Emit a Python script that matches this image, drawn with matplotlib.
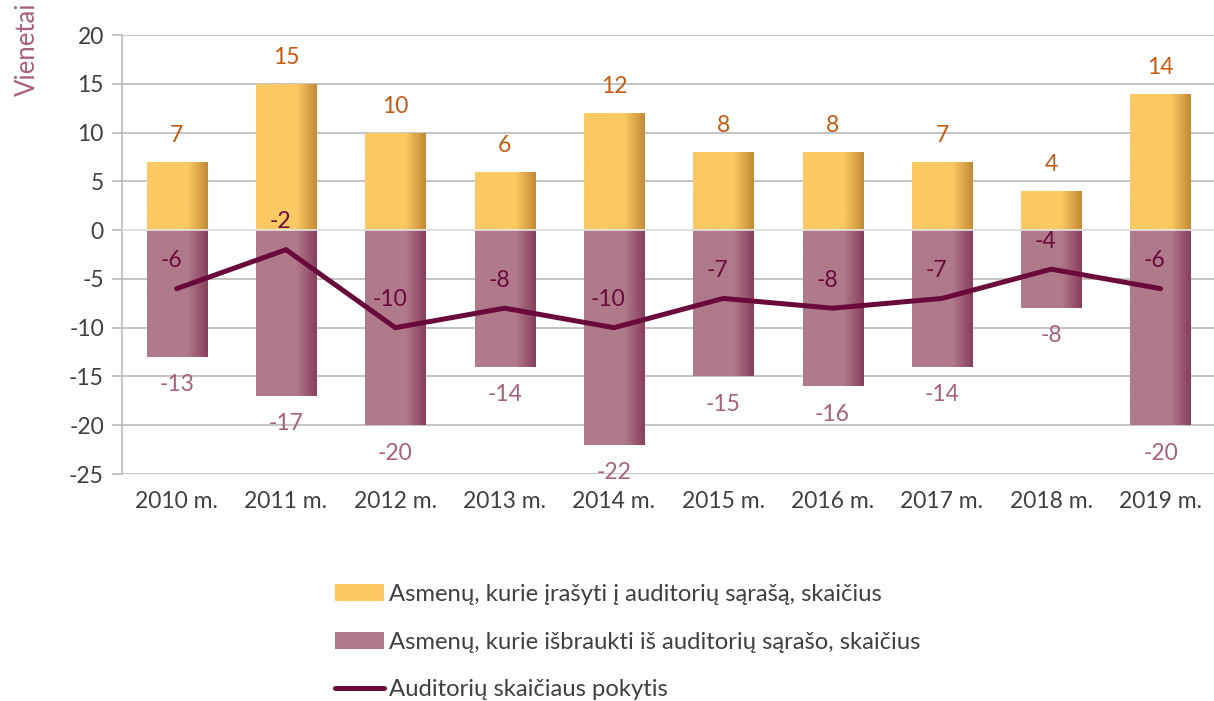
import numpy as np
import matplotlib.pyplot as plt
from matplotlib.patches import Patch
from matplotlib.lines import Line2D
from matplotlib.colors import LinearSegmentedColormap

plt.rcParams['font.family'] = ['Lato', 'DejaVu Sans']
plt.rcParams['axes.unicode_minus'] = False

# --- data ---
years = ['2010 m.', '2011 m.', '2012 m.', '2013 m.', '2014 m.',
         '2015 m.', '2016 m.', '2017 m.', '2018 m.', '2019 m.']
added = [7, 15, 10, 6, 12, 8, 8, 7, 4, 14]
removed = [-13, -17, -20, -14, -22, -15, -16, -14, -8, -20]
change = [-6, -2, -10, -8, -10, -7, -8, -7, -4, -6]

lbl_added = 'Asmenų, kurie įrašyti į auditorių sąrašą, skaičius'
lbl_removed = 'Asmenų, kurie išbraukti iš auditorių sąrašo, skaičius'
lbl_change = 'Auditorių skaičiaus pokytis'

YELLOW = '#FDC963'
YELLOW_DARK = '#C38B35'
PINK = '#B07A8B'
PINK_DARK = '#8A3F5E'
LINE = '#6A0A3B'
ORANGE_TXT = '#C55A11'
PINK_TXT = '#A8607F'
GREY_TXT = '#404040'
GRID = '#BFBFBF'

fig = plt.figure(figsize=(12.14, 7.01), dpi=100)
ax = fig.add_axes([0.1005, 0.3238, 0.9005, 0.6262])

x = np.arange(len(years))
w = 0.55


def gradient_bars(bars, base, dark):
    # horizontal shading towards the right edge of each bar
    cmap = LinearSegmentedColormap.from_list('g', [base, base, base, dark])
    grad = np.linspace(0, 1, 64).reshape(1, -1)
    for b in bars:
        x0, y0 = b.get_x(), b.get_y()
        im = ax.imshow(grad, cmap=cmap, aspect='auto', zorder=2,
                       extent=[x0, x0 + b.get_width(), y0, y0 + b.get_height()])
        im.set_clip_path(b)


b1 = ax.bar(x, added, width=w, color=YELLOW, zorder=2)
b2 = ax.bar(x, removed, width=w, color=PINK, zorder=2)
gradient_bars(b1, YELLOW, YELLOW_DARK)
gradient_bars(b2, PINK, PINK_DARK)

ax.axhline(0, color='#E6E6E6', lw=1.2, zorder=3)
ax.plot(x, change, color=LINE, lw=3.6, zorder=4, solid_capstyle='round')

FS = 16.5
for xi, v in zip(x, added):
    ax.annotate(str(v), (xi, v), xytext=(0, 19), textcoords='offset points',
                ha='center', va='center', fontsize=FS, color=ORANGE_TXT)
for xi, v in zip(x, removed):
    ax.annotate(str(v), (xi, v), xytext=(0, -20), textcoords='offset points',
                ha='center', va='center', fontsize=FS, color=PINK_TXT)
for xi, v in zip(x, change):
    ax.annotate(str(v), (xi, v), xytext=(-4, 20), textcoords='offset points',
                ha='center', va='center', fontsize=FS, color=LINE)

ax.set_xlim(-0.5, len(years) - 0.5)
ax.set_ylim(-25, 20)
ax.set_yticks(np.arange(-25, 21, 5))
ax.set_xticks(x)
ax.set_xticklabels(years)
ax.grid(axis='y', color=GRID, lw=1.3, zorder=0)
ax.set_axisbelow(True)
for s in ['top', 'right', 'bottom']:
    ax.spines[s].set_visible(False)
ax.spines['left'].set_color(GRID)
ax.spines['left'].set_linewidth(1.3)
ax.tick_params(axis='y', length=7, width=1.3, color=GRID, labelsize=FS,
               labelcolor=GREY_TXT, pad=6)
ax.tick_params(axis='x', length=0, labelsize=FS, labelcolor=GREY_TXT, pad=12)

fig.text(0.012, 0.997, 'Vienetai', rotation=90, ha='left', va='top',
         fontsize=18.5, color=PINK_TXT)

handles = [Patch(facecolor=YELLOW, edgecolor='none'),
           Patch(facecolor=PINK, edgecolor='none'),
           Line2D([0], [0], color=LINE, lw=3.6, solid_capstyle='round')]
fig.legend(handles, [lbl_added, lbl_removed, lbl_change],
           loc='upper left', bbox_to_anchor=(0.276, 0.167), frameon=False,
           fontsize=17.2, labelcolor=GREY_TXT, handlelength=2.05,
           handleheight=0.7, handletextpad=0.2, labelspacing=1.12,
           borderaxespad=0, borderpad=0)

fig.savefig('out.png', dpi=100)
